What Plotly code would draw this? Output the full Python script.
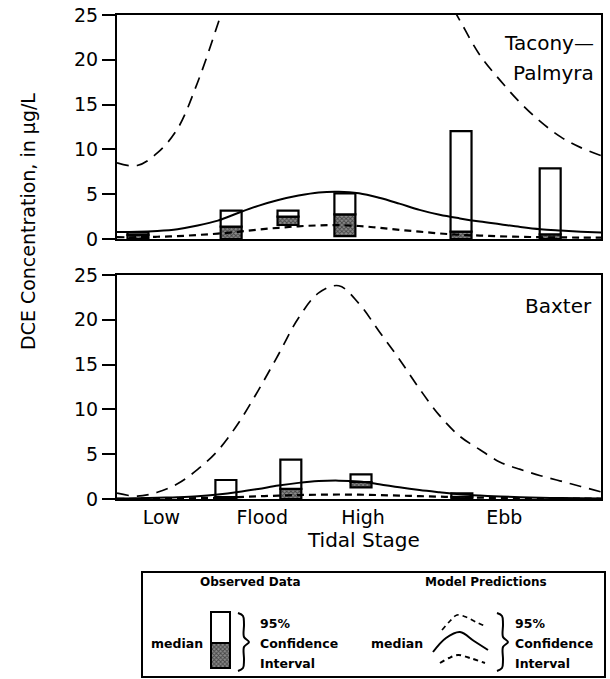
import plotly.graph_objects as go

W, H = 610, 679

# ---------------- data ----------------
tick_pos = [1.1, 3.6, 6.1, 9.6]
tick_labels = ["Low", "Flood", "High", "Ebb"]
y_ticks = [0, 5, 10, 15, 20, 25]

model_x = [0, 0.5, 1, 1.5, 2, 2.5, 3, 3.5, 4, 4.5, 5, 5.5, 6,
           6.5, 7, 7.5, 8, 8.5, 9, 9.5, 10, 10.5, 11, 11.5, 12]

# Tacony-Palmyra model predictions
tp_median = [0.78, 0.8, 0.9, 1.1, 1.5, 2.05, 2.9, 3.7, 4.35, 4.85, 5.2, 5.28, 5.1,
             4.6, 3.95, 3.25, 2.7, 2.3, 1.95, 1.65, 1.35, 1.1, 0.95, 0.82, 0.72]
tp_lower = [0.2, 0.2, 0.25, 0.32, 0.45, 0.6, 0.8, 1.05, 1.25, 1.42, 1.52, 1.55, 1.45,
            1.25, 1.02, 0.82, 0.62, 0.47, 0.38, 0.3, 0.25, 0.2, 0.18, 0.16, 0.15]
tp_upper = [8.5, 8.2, 9.6, 12.3, 17.5, 24.0, 31, 38, 43, 47, 49, 49, 47,
            43, 38, 33, 28.5, 24.4, 20.5, 17.7, 15.2, 13.1, 11.4, 10.2, 9.3]

# Baxter model predictions
bx_median = [0.05, 0.08, 0.15, 0.2, 0.3, 0.5, 0.78, 1.12, 1.5, 1.8, 2.0, 2.05, 1.95,
             1.65, 1.3, 1.0, 0.75, 0.52, 0.38, 0.28, 0.2, 0.14, 0.1, 0.07, 0.05]
bx_lower = [0.02, 0.03, 0.04, 0.07, 0.1, 0.15, 0.22, 0.3, 0.38, 0.44, 0.48, 0.5, 0.48,
            0.44, 0.38, 0.32, 0.26, 0.2, 0.15, 0.12, 0.09, 0.07, 0.05, 0.04, 0.03]
bx_upper = [0.65, 0.32, 0.75, 1.7, 3.3, 5.4, 8.4, 12.1, 16.1, 20.2, 23.0, 23.8, 21.8,
            18.7, 15.6, 12.3, 9.3, 7.0, 5.5, 4.1, 3.3, 2.6, 2.0, 1.4, 0.8]

# Observed data (95% CI low, median, 95% CI high)
tp_obs_x = [0.52, 2.83, 4.24, 5.65, 8.53, 10.74]
tp_obs_low = [0, 0, 1.56, 0.33, 0, 0]
tp_obs_med = [0.45, 1.38, 2.5, 2.75, 0.82, 0.52]
tp_obs_high = [0.75, 3.16, 3.16, 5.1, 12.05, 7.88]

bx_obs_x = [2.70, 4.31, 6.05, 8.55]
bx_obs_low = [0, 0, 1.3, 0]
bx_obs_med = [0.2, 1.12, 1.9, 0.25]
bx_obs_high = [2.12, 4.39, 2.75, 0.63]

# ---------------- styling ----------------
FONT = "DejaVu Sans"
BAR_W = 0.52
PATTERN = dict(shape="x", fgcolor="black", bgcolor="#8a8a8a", size=3, solidity=0.5)
UP_DASH = "12px,8px"
LO_DASH = "7px,5px"


def px(x):
    return x / W


def py(y):
    return 1 - y / H


fig = go.Figure()


def add_panel(xa, ya, ox, lo, med, hi, m_med, m_lo, m_up):
    fig.add_trace(go.Bar(
        x=ox, y=[m - l for m, l in zip(med, lo)], base=lo, width=BAR_W,
        xaxis=xa, yaxis=ya, showlegend=False,
        marker=dict(color="white", line=dict(color="black", width=2.2), pattern=PATTERN)))
    fig.add_trace(go.Bar(
        x=ox, y=[h - m for h, m in zip(hi, med)], base=med, width=BAR_W,
        xaxis=xa, yaxis=ya, showlegend=False,
        marker=dict(color="white", line=dict(color="black", width=2.2))))
    fig.add_trace(go.Scatter(
        x=model_x, y=m_up, mode="lines", xaxis=xa, yaxis=ya, showlegend=False,
        line=dict(color="black", width=1.7, dash=UP_DASH, shape="spline")))
    fig.add_trace(go.Scatter(
        x=model_x, y=m_lo, mode="lines", xaxis=xa, yaxis=ya, showlegend=False,
        line=dict(color="black", width=2.2, dash=LO_DASH, shape="spline")))
    fig.add_trace(go.Scatter(
        x=model_x, y=m_med, mode="lines", xaxis=xa, yaxis=ya, showlegend=False,
        line=dict(color="black", width=2, shape="spline")))


add_panel("x2", "y2", tp_obs_x, tp_obs_low, tp_obs_med, tp_obs_high, tp_median, tp_lower, tp_upper)
add_panel("x", "y", bx_obs_x, bx_obs_low, bx_obs_med, bx_obs_high, bx_median, bx_lower, bx_upper)

# ---------------- legend icons (pixel-space overlay axis) ----------------
fig.add_trace(go.Bar(x=[220.5], y=[25], base=[643], width=19, xaxis="x3", yaxis="y3",
                     showlegend=False,
                     marker=dict(color="white", line=dict(color="black", width=2), pattern=PATTERN)))
fig.add_trace(go.Bar(x=[220.5], y=[31], base=[612], width=19, xaxis="x3", yaxis="y3",
                     showlegend=False,
                     marker=dict(color="white", line=dict(color="black", width=2))))
legend_curves = [
    ([442, 450, 457, 466, 476, 487], [630, 621, 615, 617, 622, 627], 1.7, "5px,4px"),
    ([433, 446, 460, 474, 488], [652, 638, 632, 641, 650], 2, None),
    ([440, 449, 458, 470, 485], [663, 658, 655, 658, 663], 2.0, "5px,4px"),
]
for lx, ly, lw, dash in legend_curves:
    fig.add_trace(go.Scatter(x=lx, y=ly, mode="lines", xaxis="x3", yaxis="y3", showlegend=False,
                             line=dict(color="black", width=lw, dash=dash, shape="spline")))
for bx0 in [238, 497]:
    fig.add_trace(go.Scatter(
        x=[bx0, bx0 + 5, bx0 + 6, bx0 + 6, bx0 + 11, bx0 + 6, bx0 + 6, bx0 + 5, bx0],
        y=[613, 616, 624, 637, 642, 647, 660, 668, 671],
        mode="lines", xaxis="x3", yaxis="y3", showlegend=False,
        line=dict(color="black", width=2, shape="spline")))

axis_common = dict(showline=True, linecolor="black", linewidth=2, mirror=True,
                   showgrid=False, zeroline=False, automargin=False)

fig.update_layout(
    width=W, height=H,
    margin=dict(l=0, r=0, t=0, b=0),
    paper_bgcolor="white", plot_bgcolor="rgba(0,0,0,0)",
    barmode="overlay",
    font=dict(family=FONT, color="black", size=19),
    xaxis=dict(domain=[px(117), px(601)], range=[0, 12], anchor="y",
               tickvals=tick_pos, ticktext=tick_labels, ticks="",
               tickfont=dict(size=19), **axis_common),
    yaxis=dict(domain=[py(499), py(275)], range=[0, 25], anchor="x",
               tickvals=y_ticks, ticks="outside", ticklen=13, tickwidth=2,
               tickcolor="black", tickfont=dict(size=19), **axis_common),
    xaxis2=dict(domain=[px(117), px(601)], range=[0, 12], anchor="y2",
                showticklabels=False, ticks="", **axis_common),
    yaxis2=dict(domain=[py(239), py(15)], range=[0, 25], anchor="x2",
                tickvals=y_ticks, ticks="outside", ticklen=13, tickwidth=2,
                tickcolor="black", tickfont=dict(size=19), **axis_common),
    xaxis3=dict(domain=[0, 1], range=[0, W], visible=False, anchor="y3", fixedrange=True),
    yaxis3=dict(domain=[0, 1], range=[H, 0], visible=False, anchor="x3", fixedrange=True),
)

ann = [
    dict(text="Tacony—", x=px(596), y=py(43), xanchor="right", yanchor="middle", size=20),
    dict(text="Palmyra", x=px(596), y=py(73), xanchor="right", yanchor="middle", size=20),
    dict(text="Baxter", x=px(594), y=py(306), xanchor="right", yanchor="middle", size=20),
    dict(text="Tidal Stage", x=px(363), y=py(540), xanchor="center", yanchor="middle", size=20),
    dict(text="<b>Observed Data</b>", x=px(250), y=py(582), xanchor="center", yanchor="middle", size=12),
    dict(text="<b>Model Predictions</b>", x=px(486), y=py(582), xanchor="center", yanchor="middle", size=12),
    dict(text="<b>median</b>", x=px(177), y=py(643), xanchor="center", yanchor="middle", size=12.5),
    dict(text="<b>median</b>", x=px(397), y=py(643), xanchor="center", yanchor="middle", size=12.5),
]
for a in ann:
    fig.add_annotation(text=a["text"], x=a["x"], y=a["y"], xref="paper", yref="paper",
                       xanchor=a["xanchor"], yanchor=a["yanchor"], showarrow=False,
                       font=dict(family=FONT, size=a["size"], color="black"))

for tx in [258, 513]:
    for t, yy in [("95%", 623), ("Confidence", 643), ("Interval", 663)]:
        fig.add_annotation(text=f"<b>{t}</b>", x=px(tx), y=py(yy), xref="paper", yref="paper",
                           xanchor="left", yanchor="middle", showarrow=False,
                           font=dict(family=FONT, size=12.5, color="black"))

fig.add_annotation(text="DCE Concentration, in \u03bcg/L", textangle=-90,
                   x=px(28), y=py(222), xref="paper", yref="paper",
                   xanchor="center", yanchor="middle", showarrow=False,
                   font=dict(family=FONT, size=19, color="black"))

fig.add_shape(type="rect", xref="paper", yref="paper",
              x0=px(142), x1=px(605), y0=py(572), y1=py(677),
              line=dict(color="black", width=2), fillcolor="rgba(0,0,0,0)")

fig.write_html("out.html",
               config={"displayModeBar": False},
               post_script="document.body.style.margin='0';document.body.style.overflow='hidden';")
